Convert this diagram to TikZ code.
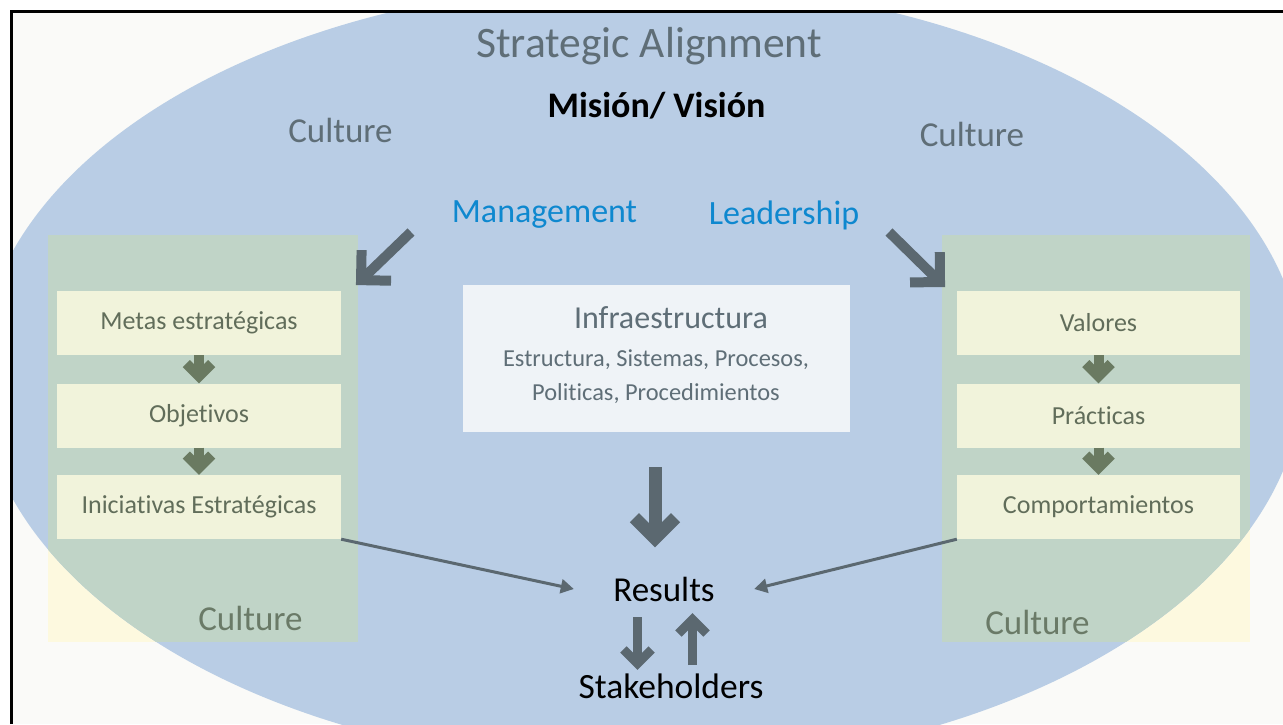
\documentclass[tikz,border=0pt]{standalone}
\usepackage{fontspec}
\setmainfont{Carlito}[Ligatures={NoCommon,NoContextual,NoRare}]
\usetikzlibrary{arrows.meta,calc}
\definecolor{ellblue}{HTML}{B9CDE5}
\definecolor{bgoff}{HTML}{FAFAF8}
\definecolor{slate}{HTML}{5F6E77}
\definecolor{arrowgrey}{HTML}{5B6870}
\definecolor{panelgreen}{HTML}{C0D4C7}
\definecolor{panelyellow}{HTML}{FDF9DF}
\definecolor{boxcream}{HTML}{F1F3DB}
\definecolor{boxtext}{HTML}{616D5A}
\definecolor{olivearrow}{HTML}{6A7A61}
\definecolor{culturegreen}{HTML}{6A7A67}
\definecolor{mgmtblue}{HTML}{0E88CF}
\definecolor{infrafill}{HTML}{EFF3F7}

% style, from, to, arm length, pull-back of the centre-line tip
\newcommand\blockarr[5]{%
  \coordinate (batip) at ($(#3)!#5!(#2)$);
  \draw[#1] (#2) -- (batip);
  \draw[#1,line join=miter] ($(batip)!#4!45:(#2)$) -- (batip) -- ($(batip)!#4!-45:(#2)$);
}

\tikzset{
  stepbox/.style={fill=boxcream, minimum width=284pt, minimum height=64pt, inner sep=0pt,
    text=boxtext, font=\fontsize{26pt}{30pt}\selectfont},
  slatetext/.style={text=slate, inner sep=0pt},
  culturetop/.style={slatetext, font=\fontsize{35pt}{40pt}\selectfont},
  culturein/.style={text=culturegreen, inner sep=0pt, font=\fontsize{35pt}{40pt}\selectfont},
  bluetext/.style={text=mgmtblue, inner sep=0pt, font=\fontsize{34pt}{40pt}\selectfont},
  blacktext/.style={text=black, inner sep=0pt, font=\fontsize{35pt}{40pt}\selectfont},
  bigarr/.style={draw=arrowgrey, line width=13pt},
  midarr/.style={draw=arrowgrey, line width=10pt},
  smallarr/.style={draw=arrowgrey, line width=9pt},
  oarr/.style={draw=olivearrow, line width=10pt},
  thinarr/.style={draw=arrowgrey, line width=3pt, -{Triangle[length=13pt,width=14pt]}},
}

\begin{document}
\begin{tikzpicture}[x=1pt,y=-1pt]
\useasboundingbox (0,0) rectangle (1283,724);
\fill[white] (0,0) rectangle (1283,724);
\fill[bgoff] (11,11) rectangle (1283,724);
% panels (yellow where outside the ellipse)
\fill[panelyellow] (48,235) rectangle (358,642);
\fill[panelyellow] (942,235) rectangle (1250,642);
\begin{scope}
  \clip (11,11) rectangle (1283,724);
  \fill[ellblue] (641,375) ellipse [x radius=662pt, y radius=392pt];
  \clip (641,375) ellipse [x radius=662pt, y radius=392pt];
  \fill[panelgreen] (48,235) rectangle (358,642);
  \fill[panelgreen] (942,235) rectangle (1250,642);
\end{scope}
% frame
\draw[line width=3pt, line join=miter] (11,724) -- (11,11) -- (1283,11);

% titles
\node[slatetext, font=\fontsize{43.5pt}{50pt}\selectfont] (title) at (649,46) {Strategic Alignment};
\node[blacktext, font=\bfseries\fontsize{36pt}{40pt}\selectfont] (mision) at (656.5,106) {Misión/ Visión};
\node[culturetop] (cultl) at (340.5,130) {Culture};
\node[culturetop] (cultr) at (972,134) {Culture};
\node[bluetext] (mgmt) at (544.5,215) {Management};
\node[bluetext] (lead) at (784,215) {Leadership};

% infrastructure
\node[fill=infrafill, minimum width=387pt, minimum height=147pt, inner sep=0pt] (infra) at (656.5,358.5) {};
\node[slatetext, font=\fontsize{32pt}{36pt}\selectfont] (infratitle) at (671,318) {Infraestructura};
\node[slatetext, font=\fontsize{24.4pt}{28pt}\selectfont] (infral1) at (656,360) {Estructura, Sistemas, Procesos,};
\node[slatetext, font=\fontsize{24.4pt}{28pt}\selectfont] (infral2) at (656,394) {Politicas, Procedimientos};

% left column
\node[stepbox] (m1) at (199,323) {Metas estratégicas};
\node[stepbox] (m2) at (199,415.5) {Objetivos};
\node[stepbox] (m3) at (199,507) {Iniciativas Estratégicas};
\node[culturein] (cultpl) at (250.5,618) {Culture};
% right column
\node[stepbox, minimum width=283pt] (v1) at (1098.5,323) {Valores};
\node[stepbox, minimum width=283pt] (v2) at (1098.5,415.5) {Prácticas};
\node[stepbox, minimum width=283pt] (v3) at (1098.5,507) {Comportamientos};
\node[culturein] (cultpr) at (1037.5,622) {Culture};

% results / stakeholders
\node[blacktext, minimum width=180pt] (res) at (664,589) {Results};
\node[blacktext, font=\fontsize{35.5pt}{40pt}\selectfont] (stk) at (671,686) {Stakeholders};

% olive step arrows
\blockarr{oarr}{m1.south}{m2.north}{18pt}{7pt}
\blockarr{oarr}{m2.south}{m3.north}{18pt}{7pt}
\blockarr{oarr}{v1.south}{v2.north}{18pt}{7pt}
\blockarr{oarr}{v2.south}{v3.north}{18pt}{7pt}

% management / leadership arrows
\coordinate (mA) at (411,232);
\coordinate (mB) at (356,285);
\blockarr{midarr}{mA}{mB}{30pt}{7pt}
\coordinate (lA) at (889,232);
\coordinate (lB) at (945,287);
\blockarr{midarr}{lA}{lB}{30pt}{7pt}

% infrastructure -> results
\coordinate (iA) at ($(infra.south)+(-1.5,35)$);
\coordinate (iB) at ($(infra.south)+(-1.5,115)$);
\blockarr{bigarr}{iA}{iB}{29pt}{9pt}

% thin arrows
\draw[thinarr] (m3.south east) -- (res.west);
\draw[thinarr] (v3.south west) -- (res.east);

% results <-> stakeholders
\coordinate (dA) at (637.5,617);
\coordinate (dB) at (637.5,670);
\blockarr{smallarr}{dA}{dB}{20pt}{6.4pt}
\coordinate (uA) at (692.5,665);
\coordinate (uB) at (692.5,613);
\blockarr{smallarr}{uA}{uB}{20pt}{6.4pt}
\end{tikzpicture}
\end{document}
